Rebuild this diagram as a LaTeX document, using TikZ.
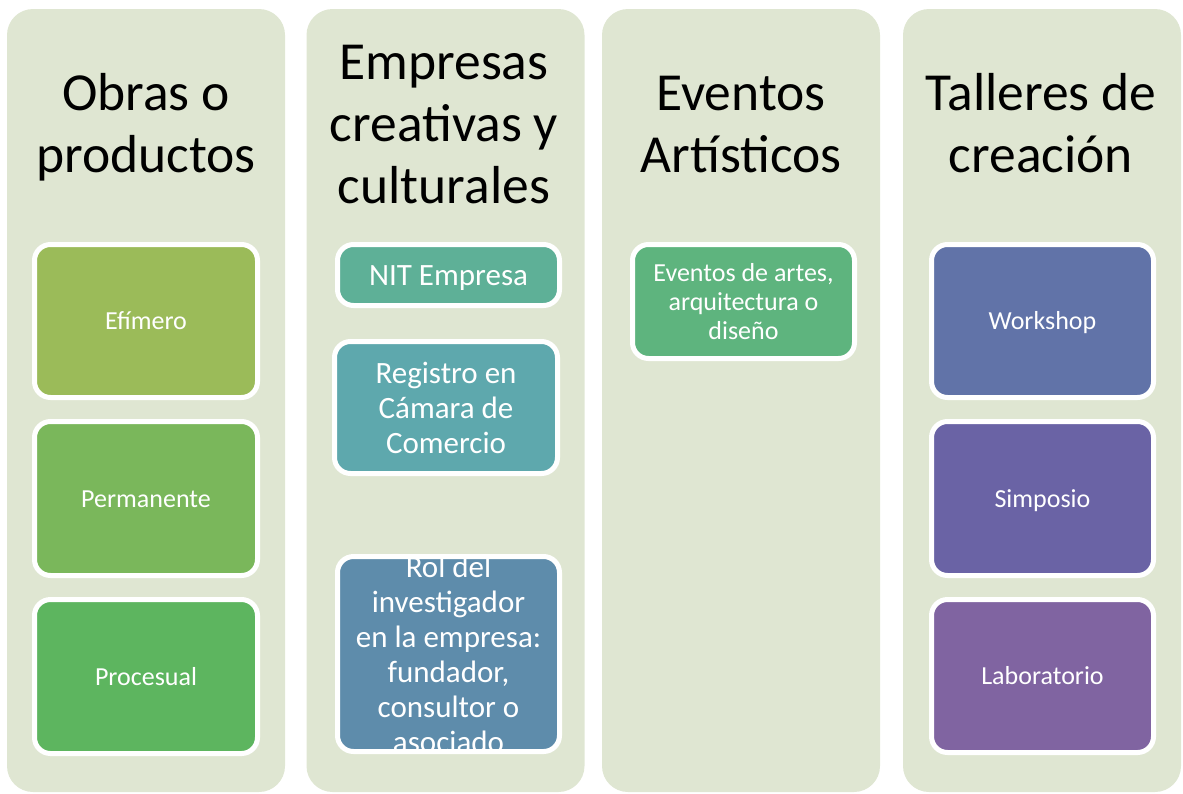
\documentclass[tikz,border=0pt]{standalone}
\usepackage{fontspec}
\setmainfont{Carlito}
\newcommand\bs{\rule[-0.2\baselineskip]{0pt}{\baselineskip}}
\definecolor{colbg}{HTML}{DFE6D2}
\definecolor{cEfi}{HTML}{9BBB59}
\definecolor{cPer}{HTML}{7AB75B}
\definecolor{cPro}{HTML}{5DB55F}
\definecolor{cNit}{HTML}{5EB097}
\definecolor{cReg}{HTML}{5EA8AD}
\definecolor{cRol}{HTML}{5E8CAB}
\definecolor{cEve}{HTML}{5EB47E}
\definecolor{cWor}{HTML}{6173A8}
\definecolor{cSim}{HTML}{6A63A5}
\definecolor{cLab}{HTML}{8064A1}
\tikzset{
  colbox/.style={rectangle, fill=colbg, rounded corners=26, inner sep=0, minimum width=278, minimum height=783},
  head/.style={inner sep=0, align=center, text=black, font=\fontsize{53.5}{62}\selectfont},
  itembox/.style={rectangle, draw=white, line width=5, rounded corners=16, inner sep=0, align=center, text=white},
  small/.style={font=\fontsize{26}{29}\selectfont},
  big/.style={font=\fontsize{31}{35}\selectfont}
}
\begin{document}
\begin{tikzpicture}[x=1pt,y=-1pt]
\useasboundingbox (0,0) rectangle (1183,793);
% columns
\node[colbox] (c1) at (146,400.5) {};
\node[colbox] (c2) at (445.5,400.5) {};
\node[colbox] (c3) at (741,400.5) {};
\node[colbox] (c4) at (1042,400.5) {};
% headings
\node[head] (h1) at (146,129) {\strut Obras o\\\strut productos};
\node[head] (h2) at (444,129) {\strut Empresas\\\strut creativas y\\\strut culturales};
\node[head] (h3) at (741,129) {\strut Eventos\\\strut Artísticos};
\node[head] (h4) at (1041,129) {\strut Talleres de\\\strut creación};
% column 1
\node[itembox, small, fill=cEfi, minimum width=223, minimum height=153] (efi) at (146,321) {\bs Efímero};
\node[itembox, small, fill=cPer, minimum width=223, minimum height=154] (per) at (146,498.5) {\bs Permanente};
\node[itembox, small, fill=cPro, minimum width=223, minimum height=154] (pro) at (146,676.5) {\bs Procesual};
% column 2
\node[itembox, big, fill=cNit, minimum width=222, minimum height=61] (nit) at (448.5,275) {\bs NIT Empresa};
\node[itembox, big, fill=cReg, minimum width=223, minimum height=132] (reg) at (446,407.5) {\bs Registro en\\\bs Cámara de\\\bs Comercio};
\node[itembox, fill=cRol, minimum width=222, minimum height=195,
  path picture={\node[inner sep=0, align=center, text=white, font=\fontsize{31}{35}\selectfont] (roltext) at (path picture bounding box.center) {\bs Rol del\\\bs investigador\\\bs en la empresa:\\\bs fundador,\\\bs consultor o\\\bs asociado};}] (rol) at (448.5,654) {};
% column 3
\node[itembox, small, fill=cEve, minimum width=222, minimum height=114] (eve) at (743.5,301.5) {\bs Eventos de artes,\\\bs arquitectura o\\\bs diseño};
% column 4
\node[itembox, small, fill=cWor, minimum width=222, minimum height=153] (wor) at (1042.5,321) {\bs Workshop};
\node[itembox, small, fill=cSim, minimum width=222, minimum height=154] (sim) at (1042.5,498.5) {\bs Simposio};
\node[itembox, small, fill=cLab, minimum width=222, minimum height=153] (lab) at (1042.5,676) {\bs Laboratorio};
\end{tikzpicture}
\end{document}
